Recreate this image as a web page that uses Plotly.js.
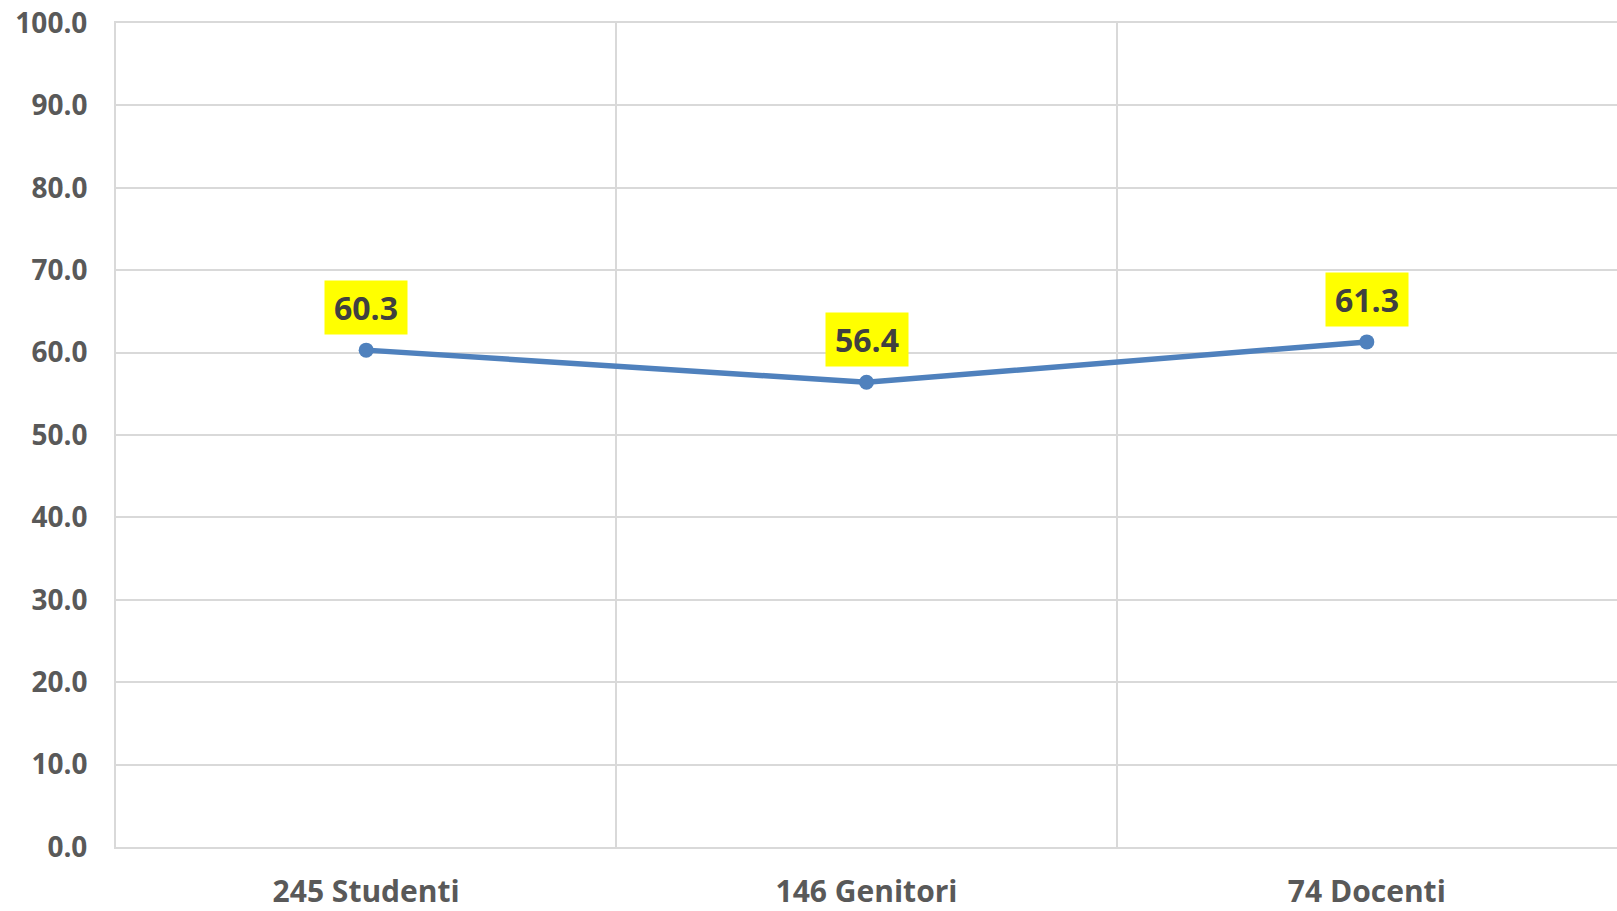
<!DOCTYPE html>
<html>
<head>
<meta charset="utf-8">
<script src="https://cdn.plot.ly/plotly-3.0.1.min.js"></script>
<style>html,body{margin:0;padding:0;background:#fff;}#chart{width:1617px;height:911px;}</style>
</head>
<body>
<div id="chart"></div>
<script>
var categories = ["245 Studenti", "146 Genitori", "74 Docenti"];
var values = [60.3, 56.4, 61.3];
var yTickValues = [0, 10, 20, 30, 40, 50, 60, 70, 80, 90, 100];

var trace = {
  x: categories,
  y: values,
  type: "scatter",
  mode: "lines+markers",
  line: {color: "#4F81BD", width: 5.5},
  marker: {color: "#4F81BD", size: 15},
  hoverinfo: "none",
  cliponaxis: false
};

var annotations = categories.map(function (c, i) {
  return {
    x: c, y: values[i], xref: "x", yref: "y",
    text: values[i].toFixed(1),
    showarrow: false,
    yanchor: "bottom", xanchor: "center",
    yshift: 15,
    width: 82, height: 53,
    bgcolor: "#FFFF00",
    borderpad: 0,
    font: {family: "Open Sans", size: 32, color: "#404040", weight: "bold"}
  };
});

var layout = {
  width: 1617, height: 911,
  margin: {l: 115.5, r: 0, t: 22.7, b: 64.3, pad: 0},
  paper_bgcolor: "#FFFFFF",
  plot_bgcolor: "#FFFFFF",
  showlegend: false,
  xaxis: {
    type: "category",
    range: [-0.5, 2.5],
    tickson: "boundaries",
    showgrid: true,
    gridcolor: "#D9D9D9",
    gridwidth: 2,
    ticks: "",
    showline: true,
    mirror: true,
    linecolor: "#D9D9D9",
    linewidth: 2,
    zeroline: false,
    ticklabelstandoff: 17,
    tickfont: {family: "Open Sans", size: 30, color: "#595959", weight: "bold"},
    fixedrange: true
  },
  yaxis: {
    range: [0, 100],
    tickvals: yTickValues,
    tickformat: ".1f",
    showgrid: true,
    gridcolor: "#D9D9D9",
    gridwidth: 2,
    zeroline: false,
    showline: true,
    linecolor: "#D9D9D9",
    linewidth: 2,
    ticks: "",
    ticklabelstandoff: 21,
    tickfont: {family: "Open Sans", size: 28, color: "#595959", weight: "bold"},
    fixedrange: true
  },
  annotations: annotations
};

Plotly.newPlot("chart", [trace], layout, {displayModeBar: false, staticPlot: true});
</script>
</body>
</html>
